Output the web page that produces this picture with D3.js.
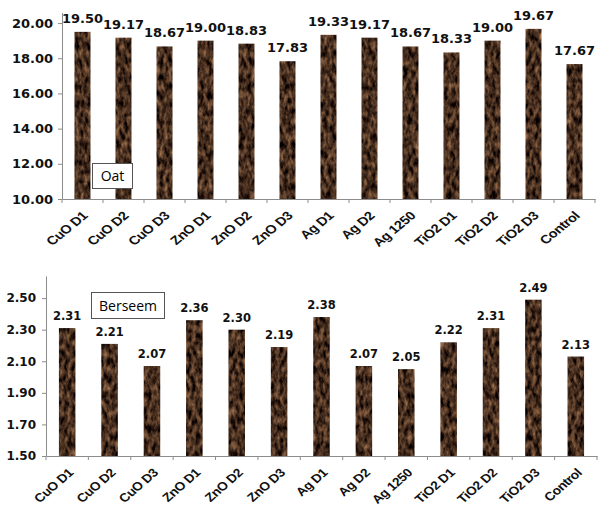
<!DOCTYPE html>
<html>
<head>
<meta charset="utf-8">
<script src="https://cdn.jsdelivr.net/npm/d3@7"></script>
<style>
  body { margin: 0; background: #fff; }
  .axis path, .axis line { stroke: #8c8c8c; }
  .tick text { fill: #111; }
</style>
</head>
<body>
<div class="chart"></div>
<script>
// data
let categories = ["CuO D1", "CuO D2", "CuO D3", "ZnO D1", "ZnO D2", "ZnO D3",
  "Ag D1", "Ag D2", "Ag 1250", "TiO2 D1", "TiO2 D2", "TiO2 D3", "Control"];
let oatValues = [19.50, 19.17, 18.67, 19.00, 18.83, 17.83, 19.33, 19.17, 18.67, 18.33, 19.00, 19.67, 17.67];
let berseemValues = [2.31, 2.21, 2.07, 2.36, 2.30, 2.19, 2.38, 2.07, 2.05, 2.22, 2.31, 2.49, 2.13];
let oatTicks = [10, 12, 14, 16, 18, 20];
let berseemTicks = [1.5, 1.7, 1.9, 2.1, 2.3, 2.5];

let width = 602;
let height = 509;

let svg = d3.select('.chart')
  .append('svg')
  .attr('width', width)
  .attr('height', height)
  .attr('viewBox', '0 0 ' + width + ' ' + height);

// brown textured fill for the bars
let filter = svg.append('defs').append('filter')
  .attr('id', 'wood')
  .attr('color-interpolation-filters', 'sRGB')
  .attr('x', 0).attr('y', 0).attr('width', 1).attr('height', 1);
filter.append('feTurbulence')
  .attr('type', 'fractalNoise')
  .attr('baseFrequency', '0.25 0.12')
  .attr('numOctaves', 3)
  .attr('seed', 7)
  .attr('result', 'noise');
filter.append('feColorMatrix')
  .attr('in', 'noise')
  .attr('type', 'matrix')
  .attr('values', '0.95 0 0 0 -0.2  0.72 0 0 0 -0.18  0.5 0 0 0 -0.13  0 0 0 0 1')
  .attr('result', 'brown');
filter.append('feComposite')
  .attr('in', 'brown')
  .attr('in2', 'SourceGraphic')
  .attr('operator', 'in');

function drawPanel(opts) {
  let x = d3.scaleBand()
    .domain(categories)
    .range([opts.left, opts.right])
    .paddingInner(0.61)
    .paddingOuter(0.305);

  let y = d3.scaleLinear()
    .domain(opts.domain)
    .range([opts.bottom, opts.top]);

  let g = svg.append('g');

  // y axis
  g.append('g')
    .attr('class', 'axis')
    .attr('transform', 'translate(' + opts.left + ',0)')
    .call(d3.axisLeft(y).tickValues(opts.ticks).tickSize(4).tickSizeOuter(0)
      .tickPadding(opts.yPad).tickFormat(d3.format('.2f')))
    .selectAll('text')
    .style('font-family', 'DejaVu Sans')
    .style('font-weight', 'bold')
    .style('font-size', opts.yFont + 'px');

  // x axis: labels only, ticks drawn on category boundaries
  let xAxis = g.append('g')
    .attr('class', 'axis')
    .attr('transform', 'translate(0,' + opts.bottom + ')')
    .call(d3.axisBottom(x).tickSize(0).tickSizeOuter(0));
  xAxis.selectAll('text')
    .attr('y', 0)
    .attr('dy', '0.3em')
    .attr('transform', 'translate(' + opts.lblDx + ',' + opts.lblDy + ') scale(' + opts.lblStretch + ',1) rotate(-45)')
    .style('text-anchor', 'end')
    .style('font-family', 'Liberation Sans')
    .style('font-weight', 'bold')
    .style('font-size', '12px')
    .style('letter-spacing', '-0.3px');

  let bounds = categories.map(function(d) {
    return x(d) - (x.step() - x.bandwidth()) / 2;
  });
  bounds.push(opts.right);
  xAxis.selectAll('.bound')
    .data(bounds)
    .enter().append('line')
    .attr('class', 'bound')
    .attr('x1', function(d) { return d; })
    .attr('x2', function(d) { return d; })
    .attr('y1', 0)
    .attr('y2', 4);

  // bars
  g.selectAll('.bar')
    .data(opts.values)
    .enter().append('rect')
    .attr('class', 'bar')
    .attr('x', function(d, i) { return x(categories[i]); })
    .attr('y', function(d) { return y(d); })
    .attr('width', x.bandwidth())
    .attr('height', function(d) { return opts.bottom - y(d); })
    .attr('fill', '#4a2f1e')
    .attr('filter', 'url(#wood)');

  // value labels
  g.selectAll('.val')
    .data(opts.values)
    .enter().append('text')
    .attr('class', 'val')
    .attr('x', function(d, i) { return x(categories[i]) + x.bandwidth() / 2; })
    .attr('y', function(d) { return y(d) - opts.valGap; })
    .attr('text-anchor', 'middle')
    .style('font-family', 'DejaVu Sans')
    .style('font-weight', 'bold')
    .style('font-size', opts.valFont + 'px')
    .style('fill', '#111')
    .text(function(d) { return d.toFixed(2); });

  // name box
  let box = opts.box;
  g.append('rect')
    .attr('x', box.x).attr('y', box.y)
    .attr('width', box.w).attr('height', box.h)
    .attr('fill', '#fff')
    .attr('stroke', '#555')
    .attr('stroke-width', 1);
  g.append('text')
    .attr('x', box.x + box.w / 2)
    .attr('y', box.y + box.h / 2)
    .attr('dy', '0.36em')
    .attr('text-anchor', 'middle')
    .style('font-family', 'Open Sans')
    .style('font-size', '14px')
    .style('fill', '#000')
    .text(opts.name);
}

drawPanel({
  name: 'Oat',
  values: oatValues,
  ticks: oatTicks,
  domain: [10, 20.6],
  left: 62, right: 595, top: 12.5, bottom: 199,
  yFont: 13, yPad: 5, valFont: 13, valGap: 9,
  lblDx: 3, lblDy: 15, lblStretch: 1.22,
  box: {x: 92.5, y: 163.5, w: 40, h: 25}
});

drawPanel({
  name: 'Berseem',
  values: berseemValues,
  ticks: berseemTicks,
  domain: [1.5, 2.64],
  left: 46, right: 597, top: 276, bottom: 456,
  yFont: 12, yPad: 6, valFont: 11.5, valGap: 8,
  lblDx: 4, lblDy: 15, lblStretch: 1.15,
  box: {x: 91.5, y: 292.5, w: 73, h: 26}
});
</script>
</body>
</html>
